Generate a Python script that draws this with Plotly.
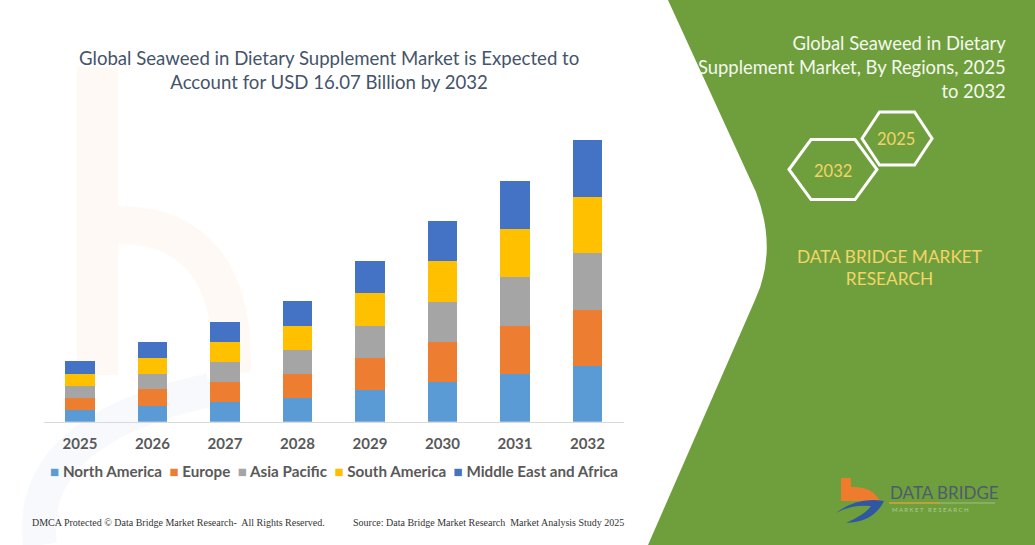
import plotly.graph_objects as go

years = ["2025", "2026", "2027", "2028", "2029", "2030", "2031", "2032"]
regions = ["North America", "Europe", "Asia Pacific", "South America", "Middle East and Africa"]
colors = ["#5b9bd5", "#ed7d31", "#a5a5a5", "#ffc000", "#4472c4"]

# USD billion (2032 total = 16.07)
north_america = [0.66, 0.89, 1.10, 1.37, 1.82, 2.28, 2.74, 3.19]
europe = [0.70, 0.95, 1.18, 1.37, 1.84, 2.28, 2.74, 3.19]
asia_pacific = [0.66, 0.89, 1.14, 1.33, 1.80, 2.28, 2.79, 3.23]
south_america = [0.70, 0.93, 1.14, 1.41, 1.86, 2.34, 2.72, 3.21]
middle_east_africa = [0.72, 0.87, 1.14, 1.39, 1.84, 2.26, 2.77, 3.25]

series = [north_america, europe, asia_pacific, south_america, middle_east_africa]

W, H = 1035, 545
FONT = "Lato"


def p(x, y):
    # pixel -> paper coords
    return "%.4f,%.4f" % (x / W, 1 - y / H)


def path(cmds):
    out = []
    for c in cmds:
        if c[0] == "Z":
            out.append("Z")
        else:
            pts = " ".join(p(c[i], c[i + 1]) for i in range(1, len(c), 2))
            out.append(c[0] + " " + pts)
    return " ".join(out)


def hexagon(cx, cy, w, h):
    d = w * 0.25
    pts = [(cx - w / 2, cy), (cx - w / 2 + d, cy - h / 2), (cx + w / 2 - d, cy - h / 2),
           (cx + w / 2, cy), (cx + w / 2 - d, cy + h / 2), (cx - w / 2 + d, cy + h / 2)]
    cmds = [("M",) + pts[0]] + [("L",) + q for q in pts[1:]] + [("Z",)]
    return path(cmds)


def note(text, x, y, size, color, family=FONT, **kw):
    d = dict(text=text, x=x / W, y=1 - y / H, xref="paper", yref="paper", showarrow=False,
             xanchor="center", yanchor="middle",
             font=dict(family=family, size=size, color=color))
    d.update(kw)
    return d


fig = go.Figure()
for name, vals, col in zip(regions, series, colors):
    fig.add_trace(go.Bar(x=years, y=vals, name=name, marker_color=col,
                         marker_line_width=0, width=0.41))

shapes = []
# faint orange "b" watermark on the left
shapes.append(dict(type="path", xref="paper", yref="paper", layer="below",
                   path=path([("M", 77, 67), ("L", 118, 67), ("L", 118, 375), ("L", 77, 375), ("Z",)]),
                   fillcolor="rgba(246,170,100,0.07)", line_width=0))
shapes.append(dict(type="path", xref="paper", yref="paper", layer="below",
                   path=path([("M", 118, 225), ("Q", 235, 225, 232, 372)]),
                   line=dict(color="rgba(246,170,100,0.07)", width=38)))
shapes.append(dict(type="path", xref="paper", yref="paper", layer="below",
                   path=path([("M", 40, 545), ("Q", 25, 430, 210, 390)]),
                   line=dict(color="rgba(120,160,200,0.06)", width=34)))

# green panel on the right
shapes.append(dict(type="path", xref="paper", yref="paper", layer="below",
                   path=path([("M", 668, 0), ("L", 756, 192), ("Q", 778, 250, 755, 300),
                              ("L", 648, 545), ("L", 1035, 545), ("L", 1035, 0), ("Z",)]),
                   fillcolor="#6f9f3c", line_width=0))

# hexagons
shapes.append(dict(type="path", xref="paper", yref="paper", path=hexagon(897, 138.5, 70, 53),
                   line=dict(color="white", width=3)))
shapes.append(dict(type="path", xref="paper", yref="paper", path=hexagon(833, 169.5, 88, 60),
                   line=dict(color="white", width=3)))

# logo bottom right
shapes.append(dict(type="path", xref="paper", yref="paper",
                   path=path([("M", 841, 478), ("L", 851, 478), ("L", 851, 487),
                              ("Q", 872, 486, 880, 501), ("L", 841, 501), ("Z",)]),
                   fillcolor="#ef7b2d", line_width=0))
shapes.append(dict(type="path", xref="paper", yref="paper",
                   path=path([("M", 836, 513), ("Q", 858, 496, 884, 501), ("Q", 874, 522, 846, 523),
                              ("Q", 866, 514, 871, 506), ("Q", 852, 504, 836, 513), ("Z",)]),
                   fillcolor="#2f57a4", line_width=0))
shapes.append(dict(type="line", xref="paper", yref="paper",
                   x0=889 / W, x1=940 / W, y0=1 - 503 / H, y1=1 - 503 / H,
                   line=dict(color="#d9a240", width=1.5)))
shapes.append(dict(type="line", xref="paper", yref="paper",
                   x0=940 / W, x1=995 / W, y0=1 - 503 / H, y1=1 - 503 / H,
                   line=dict(color="#8fb46a", width=1.5)))

ann = []
ann.append(note("Global Seaweed in Dietary Supplement Market is Expected to<br>Account for USD 16.07 Billion by 2032",
                329, 70, 18.6, "#44546a"))
ann.append(note("Global Seaweed in Dietary<br>Supplement Market, By Regions, 2025<br>to 2032",
                1008, 67, 18.4, "#f4f8ef", xanchor="right", align="right"))
ann.append(note("2025", 896, 139, 16.5, "#f2d568"))
ann.append(note("2032", 833, 171, 16.5, "#f2d568"))
ann.append(note("DATA BRIDGE MARKET<br>RESEARCH", 889, 267, 17.3, "#f2d568"))
ann.append(note("DATA BRIDGE", 888, 492, 17, "#4e5b6e", xanchor="left"))
ann.append(note("M A R K E T   R E S E A R C H", 890, 509, 6, "rgba(220,235,200,0.6)", xanchor="left"))

legend_text = "&nbsp;&nbsp;".join(
    "<span style='color:%s'>■</span>&nbsp;%s" % (c, n) for n, c in zip(regions, colors))
ann.append(note("<b>" + legend_text + "</b>", 334, 471, 15.2, "#595959"))

ann.append(note("DMCA Protected © Data Bridge Market Research-  All Rights Reserved.",
                30, 522, 10, "#333333", family="Liberation Serif", xanchor="left"))
ann.append(note("Source: Data Bridge Market Research  Market Analysis Study 2025",
                351, 522, 10, "#333333", family="Liberation Serif", xanchor="left"))

fig.update_layout(
    width=W, height=H,
    margin=dict(l=0, r=0, t=0, b=0),
    paper_bgcolor="white", plot_bgcolor="rgba(0,0,0,0)",
    barmode="stack", showlegend=False,
    shapes=shapes, annotations=ann,
    xaxis=dict(domain=[43.75 / W, 623.75 / W], range=[-0.5, 7.5], showline=True,
               linecolor="#d9d9d9", linewidth=1, showgrid=False, ticks="", ticklabelstandoff=8,
               tickfont=dict(family=FONT, size=15, color="#595959", weight="bold")),
    yaxis=dict(domain=[1 - 421.7 / H, 1 - 123.7 / H], range=[0, 17], visible=False),
)

# page body has a default 8px margin; drop it so the figure sits at the window corner
fig.write_html("out.html", config={"displayModeBar": False},
               post_script="document.body.style.margin='0';")
